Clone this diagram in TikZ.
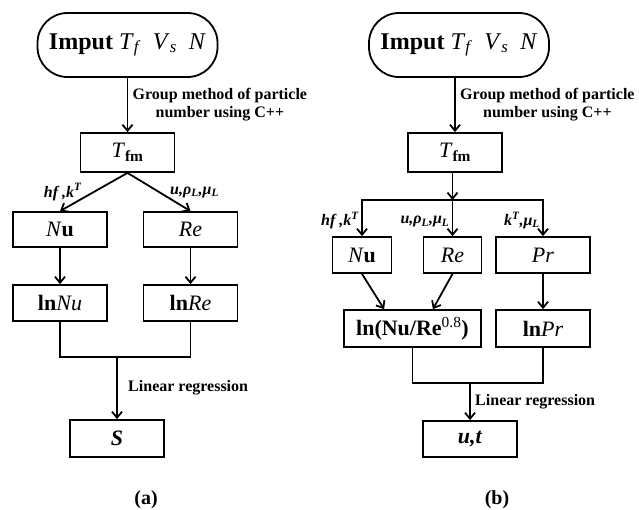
\documentclass[tikz,border=0pt]{standalone}
\usepackage{fontspec}
\setmainfont{Liberation Serif}
\usetikzlibrary{arrows.meta}
\tikzset{
	box/.style = {draw, line width = 1.8pt, inner sep = 0pt, minimum width = 94pt, minimum height = 37pt, font = \fontsize{22}{24}\selectfont},
	term/.style = {box, rounded corners = 30pt, minimum width = 180pt, minimum height = 64pt, font = \fontsize{24}{26}\selectfont},
	arr/.style = {line width = 1.8pt, -{Straight Barb[length=6pt,width=10pt,line width=1.8pt]}},
	link/.style = {line width = 1.8pt},
	lbl/.style = {font = \bfseries\itshape\fontsize{16}{18}\selectfont},
	note/.style = {font = \bfseries\fontsize{16}{18}\selectfont, align = center},
	captext/.style = {font = \bfseries\fontsize{20}{22}\selectfont}
}
\begin{document}
\begin{tikzpicture}[x = 1pt, y = -1pt]
	\useasboundingbox (0,0) rectangle (639,509);
	\node[term] (inA) at (127.5,45) {\textbf{Imput} \textit{T}\textsubscript{\textit{f}}\ \ \textit{V}\textsubscript{\textit{s}}\ \ \textit{N}};
	\node[box, minimum height = 39pt] (tA) at (127.5,152.5) {\textit{T}\textsubscript{\textbf{fm}}};
	\node[box, minimum height = 35pt] (nuA) at (60,229.5) {\textit{N}\textbf{u}};
	\node[box, minimum height = 35pt] (reA) at (190.5,229.5) {\textit{Re}};
	\node[box, minimum height = 36pt] (lnNuA) at (60,303) {\textbf{ln}\textit{Nu}};
	\node[box, minimum height = 36pt] (lnReA) at (190.5,303) {\textbf{ln}\textit{Re}};
	\node[box] (sA) at (117,438.5) {\textbf{\textit{S}}};
	\coordinate (jA) at (117,357);
	\draw[arr] (inA) -- (tA) node[midway, right = 1pt, note] {Group method of particle\\number using C++};
	\draw[arr] (tA.south) -- (nuA.north) node[midway, left = 8pt, lbl] {hf ,k\textsuperscript{T}};
	\draw[arr] (tA.south) -- (reA.north) node[midway, right = 7pt, lbl] {u,ρ\textsubscript{L},μ\textsubscript{L}};
	\draw[arr] (nuA) -- (lnNuA);
	\draw[arr] (reA) -- (lnReA);
	\draw[link] (lnNuA.south) |- (jA) -| (lnReA.south);
	\draw[arr] (jA) -- (sA) node[midway, right = 7pt, note] {Linear regression};
	\node[captext] (capA) at (146,500) {(a)};
	\node[term] (inB) at (459,45) {\textbf{Imput} \textit{T}\textsubscript{\textit{f}}\ \ \textit{V}\textsubscript{\textit{s}}\ \ \textit{N}};
	\node[box, minimum height = 39pt] (tB) at (455,152.5) {\textit{T}\textsubscript{\textbf{fm}}};
	\node[box, minimum width = 59pt, minimum height = 36pt] (nuB) at (362,255) {\textit{N}\textbf{u}};
	\node[box, minimum width = 58pt, minimum height = 36pt] (reB) at (452.5,255) {\textit{Re}};
	\node[box, minimum height = 36pt] (prB) at (543,255) {\textit{Pr}};
	\node[box, minimum width = 137pt] (lnNuReB) at (412.5,328.5) {\textbf{ln(Nu/Re}\textsuperscript{0.8}\textbf{)}};
	\node[box] (lnPrB) at (543,328.5) {\textbf{ln}\textit{Pr}};
	\node[box, minimum height = 36pt] (utB) at (470,439) {\textbf{\textit{u,t}}};
	\coordinate (splitB) at (452.5,200);
	\coordinate (jB) at (470,383);
	\draw[arr] (inB.south -| tB.north) -- (tB.north) node[midway, right = 1pt, note] {Group method of particle\\number using C++};
	\draw[arr] (tB.south -| splitB) -- (splitB);
	\draw[arr] (splitB) -| (nuB.north) node[pos = 0.78, left = -1pt, lbl] {hf ,k\textsuperscript{T}};
	\draw[arr] (splitB) -- (reB.north) node[pos = 0.6, left = -1pt, lbl] {u,ρ\textsubscript{L},μ\textsubscript{L}};
	\draw[arr] (splitB) -| (prB.north) node[pos = 0.78, left = -1pt, lbl] {k\textsuperscript{T},μ\textsubscript{L}};
	\draw[arr] (nuB.south) -- ([xshift = 41pt]lnNuReB.north west);
	\draw[arr] (reB.south) -- ([xshift = -49pt]lnNuReB.north east);
	\draw[arr] (prB) -- (lnPrB);
	\draw[link] (lnNuReB.south) |- (jB) -| (lnPrB.south);
	\draw[arr] (jB) -- (utB) node[midway, right = 1pt, note] {Linear regression};
	\node[captext] (capB) at (497,500) {(b)};
\end{tikzpicture}
\end{document}
